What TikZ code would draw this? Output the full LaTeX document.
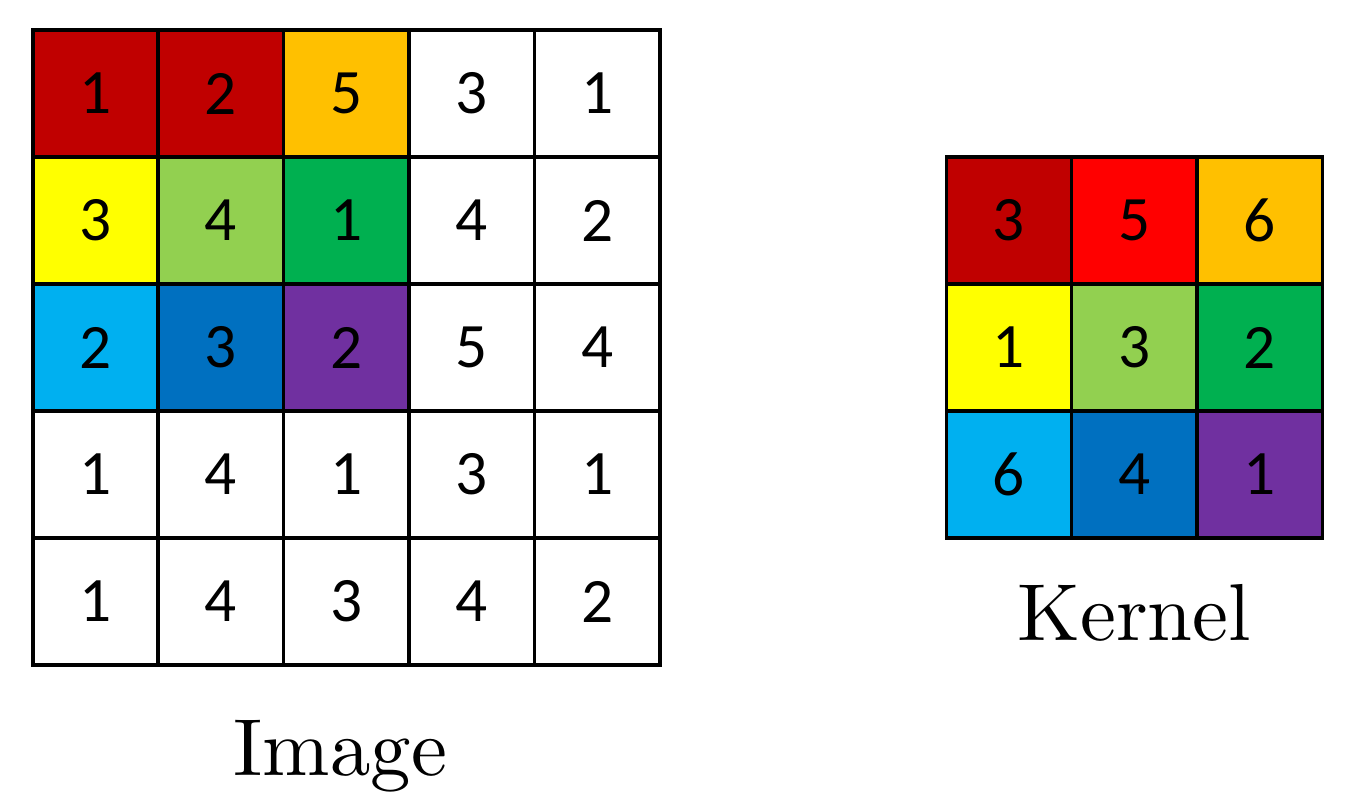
\documentclass[tikz,border=0pt]{standalone}
\usepackage{fontspec}
\newfontfamily\digitfont{Carlito}
\newfontfamily\capfont{lmroman10-regular}[Extension=.otf]
\usetikzlibrary{calc,positioning}
\definecolor{darkred}{HTML}{C00000}
\definecolor{brightred}{HTML}{FF0000}
\definecolor{amber}{HTML}{FFC000}
\definecolor{lemon}{HTML}{FFFF00}
\definecolor{lime}{HTML}{92D050}
\definecolor{leaf}{HTML}{00B050}
\definecolor{sky}{HTML}{00B0F0}
\definecolor{ocean}{HTML}{0070C0}
\definecolor{plum}{HTML}{7030A0}
\tikzset{cell/.style={draw, line width=2pt, rectangle, minimum width=2.508cm, minimum height=2.54cm, inner sep=0pt, outer sep=0pt, fill=white, text=black, font=\digitfont\fontsize{36}{40}\selectfont}, caption/.style={anchor=base, font=\capfont\fontsize{46}{50}\selectfont}}

\begin{document}
\begin{tikzpicture}
    \useasboundingbox (0,0) rectangle (27.28,-16.2);
    % image
    \node[cell,fill=darkred] (I11) at (1.91,-1.87) {1};
    \node[cell,fill=darkred,right=0pt of I11] (I12) {2};
    \node[cell,fill=amber,right=0pt of I12] (I13) {5};
    \node[cell,right=0pt of I13] (I14) {3};
    \node[cell,right=0pt of I14] (I15) {1};
    \node[cell,fill=lemon,below=0pt of I11] (I21) {3};
    \node[cell,fill=lime,right=0pt of I21] (I22) {4};
    \node[cell,fill=leaf,right=0pt of I22] (I23) {1};
    \node[cell,right=0pt of I23] (I24) {4};
    \node[cell,right=0pt of I24] (I25) {2};
    \node[cell,fill=sky,below=0pt of I21] (I31) {2};
    \node[cell,fill=ocean,right=0pt of I31] (I32) {3};
    \node[cell,fill=plum,right=0pt of I32] (I33) {2};
    \node[cell,right=0pt of I33] (I34) {5};
    \node[cell,right=0pt of I34] (I35) {4};
    \node[cell,below=0pt of I31] (I41) {1};
    \node[cell,right=0pt of I41] (I42) {4};
    \node[cell,right=0pt of I42] (I43) {1};
    \node[cell,right=0pt of I43] (I44) {3};
    \node[cell,right=0pt of I44] (I45) {1};
    \node[cell,below=0pt of I41] (I51) {1};
    \node[cell,right=0pt of I51] (I52) {4};
    \node[cell,right=0pt of I52] (I53) {3};
    \node[cell,right=0pt of I53] (I54) {4};
    \node[cell,right=0pt of I54] (I55) {2};
    \node[caption] (image) at ($(I53.south)+(-0.12,-2.2)$) {Image};
    % kernel
    \node[cell,fill=darkred] (K11) at (20.18,-4.41) {3};
    \node[cell,fill=brightred,right=0pt of K11] (K12) {5};
    \node[cell,fill=amber,right=0pt of K12] (K13) {6};
    \node[cell,fill=lemon,below=0pt of K11] (K21) {1};
    \node[cell,fill=lime,right=0pt of K21] (K22) {3};
    \node[cell,fill=leaf,right=0pt of K22] (K23) {2};
    \node[cell,fill=sky,below=0pt of K21] (K31) {6};
    \node[cell,fill=ocean,right=0pt of K31] (K32) {4};
    \node[cell,fill=plum,right=0pt of K32] (K33) {1};
    \node[caption] (kernel) at ($(K32.south)+(0,-2.04)$) {Kernel};
\end{tikzpicture}
\end{document}
